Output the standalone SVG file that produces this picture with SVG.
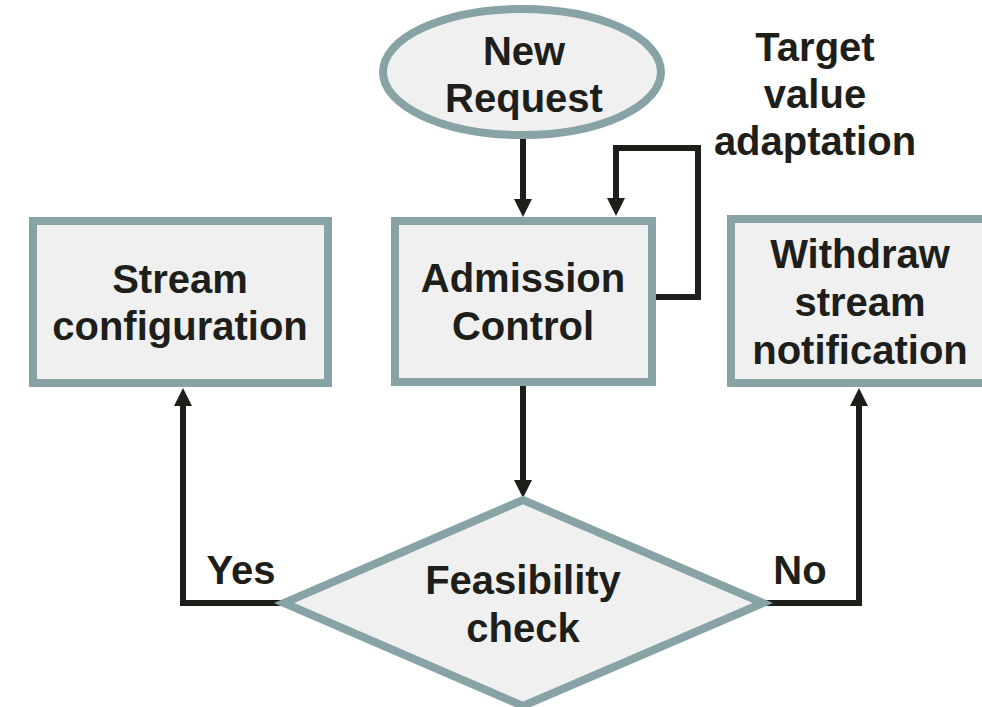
<svg xmlns="http://www.w3.org/2000/svg" width="982" height="707" viewBox="0 0 982 707">
  <style>
    .shape { fill: #f0f0f0; stroke: #87a3a6; stroke-width: 8; }
    .edge { fill: none; stroke: #1e1e1a; stroke-width: 6; stroke-linejoin: miter; marker-end: url(#arrow); }
    text { font-family: "Liberation Sans", Arial, Helvetica, sans-serif; font-weight: bold; font-size: 40px; fill: #1e1e1a; text-anchor: middle; }
  </style>
  <defs>
    <marker id="arrow" markerUnits="userSpaceOnUse" markerWidth="18" markerHeight="18" refX="6" refY="9" orient="auto">
      <path d="M0,0 L18,9 L0,18 z" fill="#1e1e1a"/>
    </marker>
  </defs>
  <rect width="982" height="707" fill="#ffffff"/>

  <g id="connectors">
    <path class="edge" d="M523 138 V205"/>
    <path class="edge" d="M655 297 H698 V148 H616 V204"/>
    <path class="edge" d="M523 385 V486"/>
    <path class="edge" d="M285 603 H183 V400"/>
    <path class="edge" d="M762 603 H859 V400"/>
  </g>

  <g id="new-request">
    <ellipse class="shape" cx="522" cy="72" rx="139" ry="63" stroke-width="7"/>
    <text x="524" y="65">New</text>
    <text x="524" y="112">Request</text>
  </g>

  <g id="target-value-adaptation">
    <text x="815" y="61">Target</text>
    <text x="815" y="108">value</text>
    <text x="815" y="155">adaptation</text>
  </g>

  <g id="admission-control">
    <rect class="shape" x="395" y="221" width="257" height="161"/>
    <text x="523" y="292">Admission</text>
    <text x="523" y="340">Control</text>
  </g>

  <g id="stream-configuration">
    <rect class="shape" x="33" y="221" width="295" height="162"/>
    <text x="180" y="293">Stream</text>
    <text x="180" y="340">configuration</text>
  </g>

  <g id="withdraw-notification">
    <rect class="shape" x="731" y="219" width="262" height="164"/>
    <text x="860" y="268">Withdraw</text>
    <text x="860" y="316">stream</text>
    <text x="860" y="364">notification</text>
  </g>

  <g id="feasibility-check">
    <polygon class="shape" points="523,500 763,603 523,706 284,603"/>
    <text x="523" y="594">Feasibility</text>
    <text x="523" y="642">check</text>
  </g>

  <g id="edge-labels">
    <text x="241" y="584">Yes</text>
    <text x="800" y="584">No</text>
  </g>
</svg>
